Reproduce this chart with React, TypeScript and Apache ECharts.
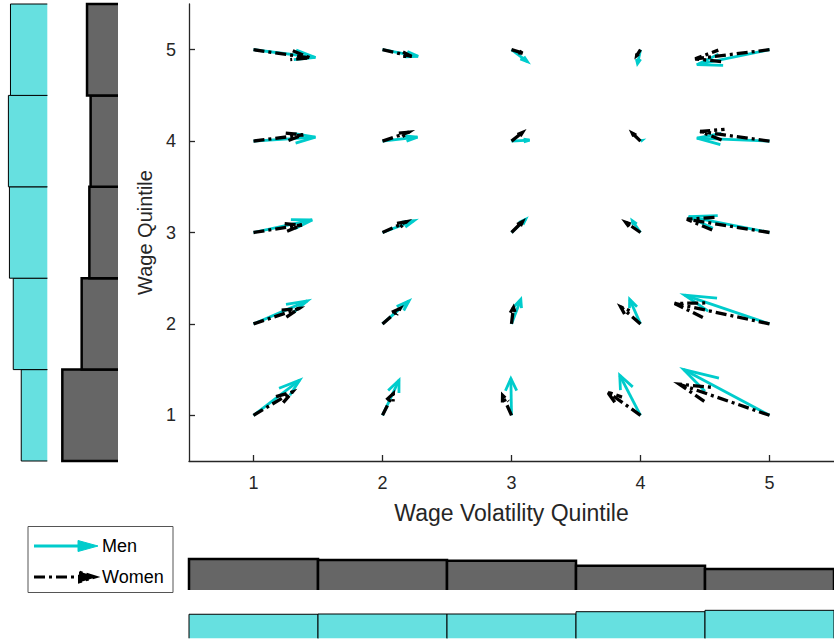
import { useEffect, useRef } from "react";
import * as echarts from "echarts";

// Quintile categories used by both marginal histograms
const quintiles = ["1", "2", "3", "4", "5"];
const tickValues = [1, 2, 3, 4, 5];

// Transition vectors: rows = wage quintile 1..5, columns = volatility quintile 1..5
const menDx = [
  [0.358, 0.128, -0.005, -0.161, -0.666],
  [0.417, 0.205, 0.072, -0.084, -0.658],
  [0.455, 0.243, 0.11, -0.064, -0.627],
  [0.48, 0.271, 0.14, 0.008, -0.563],
  [0.48, 0.276, 0.123, -0.023, -0.563],
];
const menDy = [
  [0.384, 0.384, 0.402, 0.438, 0.5],
  [0.252, 0.252, 0.268, 0.268, 0.315],
  [0.137, 0.129, 0.145, 0.129, 0.173],
  [0.044, 0.043, 0.01, 0.005, 0.033],
  [-0.085, -0.073, -0.13, -0.153, -0.164],
];
const womenDx = [
  [0.302, 0.084, -0.069, -0.256, -0.699],
  [0.353, 0.136, 0.015, -0.154, -0.735],
  [0.374, 0.187, 0.085, -0.115, -0.64],
  [0.384, 0.205, 0.085, -0.064, -0.537],
  [0.44, 0.225, 0.085, -0.03, -0.576],
];
const womenDy = [
  [0.256, 0.238, 0.219, 0.256, 0.34],
  [0.168, 0.168, 0.18, 0.187, 0.224],
  [0.082, 0.118, 0.118, 0.112, 0.145],
  [0.068, 0.098, 0.094, 0.087, 0.105],
  [-0.09, -0.073, -0.037, -0.066, -0.1],
];

// Population shares (%) by wage quintile and by volatility quintile
const menWageShare = [15.0, 19.6, 21.8, 22.4, 21.2];
const womenWageShare = [31.1, 20.3, 16.0, 15.3, 17.3];
const menVolShare = [18.9, 19.1, 19.1, 20.9, 22.0];
const womenVolShare = [22.9, 22.1, 21.6, 17.9, 15.5];

const FONT = "'Liberation Sans', Arial, Helvetica, sans-serif";
const AXIS_COLOR = "#262626";
const ARROW_CYAN = "#00CCCC";
const HIST_CYAN = "#66E0E0";
const HIST_GRAY = "#666666";
const WOMEN_DASH = [11, 4, 3, 4];

function toVectors(dx: number[][], dy: number[][]) {
  const out: number[][] = [];
  for (let r = 0; r < 5; r++) {
    for (let c = 0; c < 5; c++) {
      out.push([tickValues[c], tickValues[r], dx[r][c], dy[r][c]]);
    }
  }
  return out;
}

// Quiver-style arrow: shaft plus two-winged head computed in data units
function arrowRenderer(color: string, width: number, dash: number[] | null) {
  return (_params: any, api: any) => {
    const x = api.value(0);
    const y = api.value(1);
    const u = api.value(2);
    const v = api.value(3);
    const a = 0.33;
    const b = 0.33;
    const tx = x + u;
    const ty = y + v;
    const p0 = api.coord([x, y]);
    const pt = api.coord([tx, ty]);
    const w1 = api.coord([tx - a * (u + b * v), ty - a * (v - b * u)]);
    const w2 = api.coord([tx - a * (u - b * v), ty - a * (v + b * u)]);
    const style: any = { stroke: color, lineWidth: width, fill: null };
    if (dash) style.lineDash = dash;
    return {
      type: "group",
      children: [
        { type: "polyline", shape: { points: [p0, pt] }, style },
        { type: "polyline", shape: { points: [w1, pt, w2] }, style },
      ],
    };
  };
}

// Histogram bar outlined on three sides (no edge along the baseline)
function histRenderer(fill: string, borderWidth: number, horizontal: boolean) {
  return (_params: any, api: any) => {
    let pts: number[][];
    if (horizontal) {
      const val = api.value(0);
      const cat = api.value(1);
      const base = api.coord([0, cat]);
      const end = api.coord([val, cat]);
      const h = api.size([0, 1])[1];
      const y0 = base[1] - h / 2;
      const y1 = base[1] + h / 2;
      pts = [[base[0], y0], [end[0], y0], [end[0], y1], [base[0], y1]];
    } else {
      const cat = api.value(0);
      const val = api.value(1);
      const base = api.coord([cat, 0]);
      const end = api.coord([cat, val]);
      const w = api.size([1, 0])[0];
      const x0 = base[0] - w / 2;
      const x1 = base[0] + w / 2;
      pts = [[x0, base[1]], [x0, end[1]], [x1, end[1]], [x1, base[1]]];
    }
    return {
      type: "group",
      children: [
        { type: "polygon", shape: { points: pts }, style: { fill, stroke: null } },
        { type: "polyline", shape: { points: pts }, style: { stroke: "#000000", lineWidth: borderWidth, fill: null } },
      ],
    };
  };
}

export default function App() {
  const ref = useRef<HTMLDivElement>(null);

  useEffect(() => {
    if (!ref.current) return;
    const chart = echarts.init(ref.current, null, { renderer: "svg" });

    const hiddenCat = (gridIndex: number) => ({
      type: "category",
      gridIndex,
      data: quintiles,
      show: false,
      boundaryGap: true,
    });

    const option: any = {
      animation: false,
      backgroundColor: "#ffffff",
      textStyle: { fontFamily: FONT },
      grid: [
        { left: 189, top: 4, width: 651, height: 457 },
        // left margin: men by wage quintile
        { left: 0, top: 4, width: 47.3, height: 457 },
        // left margin: women by wage quintile
        { left: 55, top: 4, width: 63, height: 457 },
        // bottom margin: women by volatility quintile
        { left: 189, top: 552, width: 651, height: 38 },
        // bottom margin: men by volatility quintile
        { left: 189, top: 605, width: 651, height: 33.3 },
      ],
      xAxis: [
        {
          type: "value",
          gridIndex: 0,
          min: 0.5,
          max: 5.5,
          name: "Wage Volatility Quintile",
          nameLocation: "middle",
          nameGap: 40,
          nameTextStyle: { fontSize: 23, color: AXIS_COLOR, fontFamily: FONT },
          axisLine: { show: true, lineStyle: { color: AXIS_COLOR, width: 1.3 } },
          axisTick: { show: true, inside: true, length: 6, customValues: tickValues, lineStyle: { color: AXIS_COLOR, width: 1.3 } },
          axisLabel: { customValues: tickValues, fontSize: 18, color: AXIS_COLOR, margin: 13, fontFamily: FONT },
          splitLine: { show: false },
        },
        { type: "value", gridIndex: 1, inverse: true, min: 0, max: 47.3 / 1.737, show: false },
        { type: "value", gridIndex: 2, inverse: true, min: 0, max: 63 / 1.79, show: false },
        hiddenCat(3),
        hiddenCat(4),
      ],
      yAxis: [
        {
          type: "value",
          gridIndex: 0,
          min: 0.5,
          max: 5.5,
          name: "Wage Quintile",
          nameLocation: "middle",
          nameGap: 31,
          nameTextStyle: { fontSize: 20, color: AXIS_COLOR, fontFamily: FONT },
          axisLine: { show: true, lineStyle: { color: AXIS_COLOR, width: 1.3 } },
          axisTick: { show: true, inside: true, length: 6, customValues: tickValues, lineStyle: { color: AXIS_COLOR, width: 1.3 } },
          axisLabel: { customValues: tickValues, fontSize: 18, color: AXIS_COLOR, margin: 13, fontFamily: FONT },
          splitLine: { show: false },
        },
        hiddenCat(1),
        hiddenCat(2),
        { type: "value", gridIndex: 3, min: 0, max: 38 / 1.356, show: false },
        { type: "value", gridIndex: 4, min: 0, max: 33.3 / 1.272, show: false },
      ],
      series: [
        {
          type: "custom",
          name: "Men",
          xAxisIndex: 0,
          yAxisIndex: 0,
          data: toVectors(menDx, menDy),
          encode: { x: 0, y: 1 },
          renderItem: arrowRenderer(ARROW_CYAN, 2.8, null),
          z: 3,
        },
        {
          type: "custom",
          name: "Women",
          xAxisIndex: 0,
          yAxisIndex: 0,
          data: toVectors(womenDx, womenDy),
          encode: { x: 0, y: 1 },
          renderItem: arrowRenderer("#000000", 3.3, WOMEN_DASH),
          z: 4,
        },
        {
          type: "custom",
          xAxisIndex: 1,
          yAxisIndex: 1,
          data: menWageShare.map((v, i) => [v, i]),
          encode: { x: 0, y: 1 },
          renderItem: histRenderer(HIST_CYAN, 1, true),
        },
        {
          type: "custom",
          xAxisIndex: 2,
          yAxisIndex: 2,
          data: womenWageShare.map((v, i) => [v, i]),
          encode: { x: 0, y: 1 },
          renderItem: histRenderer(HIST_GRAY, 2.5, true),
        },
        {
          type: "custom",
          xAxisIndex: 3,
          yAxisIndex: 3,
          data: womenVolShare.map((v, i) => [i, v]),
          encode: { x: 0, y: 1 },
          renderItem: histRenderer(HIST_GRAY, 2.5, false),
        },
        {
          type: "custom",
          xAxisIndex: 4,
          yAxisIndex: 4,
          data: menVolShare.map((v, i) => [i, v]),
          encode: { x: 0, y: 1 },
          renderItem: histRenderer(HIST_CYAN, 1, false),
        },
      ],
      graphic: [
        {
          type: "group",
          children: [
            {
              type: "rect",
              shape: { x: 28, y: 526.5, width: 145, height: 66 },
              style: { fill: "#ffffff", stroke: "#555555", lineWidth: 1 },
            },
            {
              type: "line",
              shape: { x1: 34, y1: 546, x2: 82, y2: 546 },
              style: { stroke: ARROW_CYAN, lineWidth: 3 },
            },
            {
              type: "polygon",
              shape: { points: [[98, 546], [78, 540.5], [78, 551.5]] },
              style: { fill: ARROW_CYAN, stroke: ARROW_CYAN, lineWidth: 1 },
            },
            {
              type: "text",
              style: { x: 102, y: 546, text: "Men", fontSize: 18, fontFamily: FONT, fill: "#000000", verticalAlign: "middle", align: "left" },
            },
            {
              type: "line",
              shape: { x1: 34, y1: 577, x2: 82, y2: 577 },
              style: { stroke: "#000000", lineWidth: 3, lineDash: WOMEN_DASH },
            },
            {
              type: "polygon",
              shape: { points: [[97, 577], [79, 571.5], [79, 582.5]] },
              style: { fill: "#000000", stroke: "#000000", lineWidth: 2, lineDash: WOMEN_DASH },
            },
            {
              type: "text",
              style: { x: 102, y: 577, text: "Women", fontSize: 18, fontFamily: FONT, fill: "#000000", verticalAlign: "middle", align: "left" },
            },
          ],
        },
      ],
    };

    chart.setOption(option);
    return () => chart.dispose();
  }, []);

  return (
    <div
      ref={ref}
      style={{ position: "absolute", left: 0, top: 0, width: 834, height: 643, background: "#ffffff" }}
    />
  );
}
